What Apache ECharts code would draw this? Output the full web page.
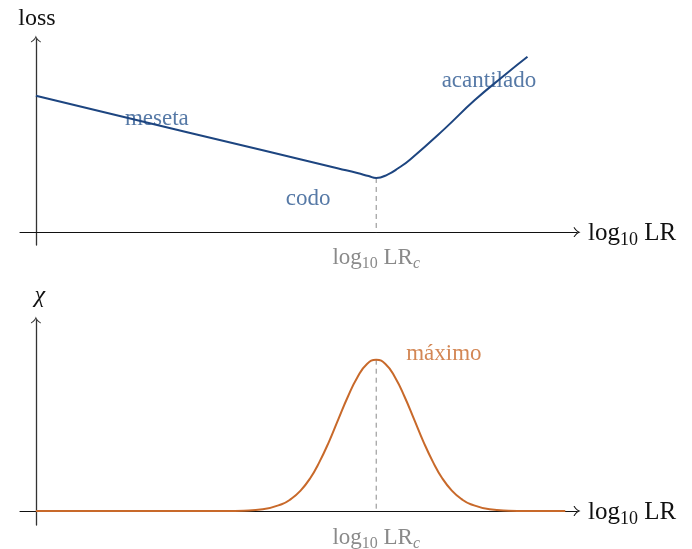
<!DOCTYPE html>
<html>
<head>
<meta charset="utf-8">
<script src="https://cdn.jsdelivr.net/npm/echarts@6/dist/echarts.min.js"></script>
<style>
  html, body { margin: 0; padding: 0; background: #fff; }
  #chart { width: 692px; height: 549px; }
</style>
</head>
<body>
<div id="chart"></div>
<script>
// Loss curve: plateau, elbow at the critical learning rate, then the cliff
const lossX = [0, 4, 8.0, 8.5, 8.8, 9.0, 9.3, 9.6, 9.9, 10.8, 11.6, 12.4, 13.0];
const lossY = [3.6, 2.64, 1.68, 1.56, 1.48, 1.43, 1.52, 1.70, 1.92, 2.72, 3.48, 4.15, 4.63];

// χ curve: single peak centred on the critical learning rate
const chiX = [0, 4, 5, 5.5, 6, 6.5, 6.75, 7, 7.25, 7.5, 7.75, 8, 8.25, 8.5, 8.75, 9,
              9.25, 9.5, 9.75, 10, 10.25, 10.5, 10.75, 11, 11.25, 11.5, 12, 12.5, 13, 14];
const chiY = [0, 0, 0.001, 0.009, 0.044, 0.18, 0.32, 0.54, 0.86, 1.30, 1.83, 2.43, 3.02, 3.53, 3.88, 4.0,
              3.88, 3.53, 3.02, 2.43, 1.83, 1.30, 0.86, 0.54, 0.32, 0.18, 0.044, 0.009, 0.001, 0];

const lrCritical = 9;
const lossAtCritical = 1.43;
const chiPeak = 4.0;

const xLabelText = 'log10 LR';
const criticalLabelText = 'log10 LRc';
const lossName = 'loss';
const chiName = 'χ';
const lossNotes = ['meseta', 'codo', 'acantilado'];
const chiNotes = ['máximo'];

const SERIF = '"Liberation Serif", "DejaVu Serif", serif';
const BLUE = '#1d4580';
const BLUE_TEXT = '#2c5790';
const ORANGE = '#c8692a';
const GRAY = '#8a8a8a';

// Open "->" arrow head, drawn pointing up; ECharts rotates it along the axis
const ARROW = 'path://M5,0 C5.6,2.4 7.4,4.6 10,6 L10,7.1 C7.6,5.9 5.9,4.3 5,2.6 C4.1,4.3 2.4,5.9 0,7.1 L0,6 C2.6,4.6 4.4,2.4 5,0 Z';

function mathRich(size, color) {
  const sub = Math.round(size * 0.7);
  return {
    m: { fontFamily: SERIF, fontSize: size, color: color, lineHeight: size + 3, verticalAlign: 'top' },
    s: { fontFamily: SERIF, fontSize: sub, color: color, lineHeight: sub, verticalAlign: 'bottom' },
    i: { fontFamily: SERIF, fontStyle: 'italic', fontSize: sub, color: color, lineHeight: sub, verticalAlign: 'bottom' }
  };
}
function logLabel(text) {
  // "log10 LR" -> log with subscript 10, optional italic subscript c
  const parts = text.match(/^log(\d+) (LR)(c?)$/);
  let s = '{m|log}{s|' + parts[1] + '}{m| ' + parts[2] + '}';
  if (parts[3]) s += '{i|' + parts[3] + '}';
  return s;
}

function makeXAxis(gridIndex) {
  return {
    type: 'value', gridIndex: gridIndex,
    min: -0.42, max: 14.31,
    splitLine: { show: false },
    axisLine: { show: true, onZero: true, lineStyle: { color: '#111', width: 1.1 },
                symbol: ['none', ARROW], symbolSize: [11, 7] },
    axisTick: { show: false },
    axisLabel: {
      show: true, customValues: [lrCritical], margin: 1,
      formatter: function () { return logLabel(criticalLabelText); },
      rich: mathRich(23, GRAY)
    },
    name: logLabel(xLabelText), nameLocation: 'end', nameGap: 11,
    nameTextStyle: { rich: mathRich(25, '#111'), verticalAlign: 'middle', padding: [6, 0, 0, 0] }
  };
}
function makeYAxis(gridIndex, min, max, name, italic) {
  return {
    type: 'value', gridIndex: gridIndex, min: min, max: max,
    splitLine: { show: false },
    axisLine: { show: true, onZero: true, lineStyle: { color: '#333', width: 1.3 },
                symbol: ['none', ARROW], symbolSize: [11, 7] },
    axisTick: { show: false },
    axisLabel: { show: false },
    name: name, nameLocation: 'end', nameGap: italic ? 12 : 8,
    nameTextStyle: { fontFamily: SERIF, fontSize: 24, color: '#111',
                     fontStyle: italic ? 'italic' : 'normal', align: 'center',
                     padding: italic ? [0, 0, 0, 8] : [0, 0, 0, 2] }
  };
}

function noteSeries(xi, yi, notes, color, positions) {
  return {
    type: 'scatter', xAxisIndex: xi, yAxisIndex: yi, symbolSize: 0, clip: false, silent: true,
    data: notes.map(function (t, k) { return { name: t, value: positions[k] }; }),
    label: { show: true, position: 'inside', formatter: '{b}',
             fontFamily: SERIF, fontSize: 23, color: color }
  };
}

const chart = echarts.init(document.getElementById('chart'), null, { renderer: 'canvas' });
chart.setOption({
  animation: false,
  backgroundColor: '#ffffff',
  grid: [
    { left: 20, top: 39, width: 557, height: 206, outerBoundsMode: 'none', containLabel: false },
    { left: 20, top: 320, width: 557, height: 205, outerBoundsMode: 'none', containLabel: false }
  ],
  xAxis: [makeXAxis(0), makeXAxis(1)],
  yAxis: [
    makeYAxis(0, -0.34, 5.1, lossName, false),
    makeYAxis(1, -0.37, 5.05, chiName, true)
  ],
  series: [
    {
      type: 'line', xAxisIndex: 0, yAxisIndex: 0, showSymbol: false, smooth: 0.5,
      clip: false, z: 3,
      lineStyle: { color: BLUE, width: 2 },
      data: lossX.map(function (x, i) { return [x, lossY[i]]; })
    },
    {
      type: 'line', xAxisIndex: 0, yAxisIndex: 0, showSymbol: false, z: 2,
      lineStyle: { color: GRAY, width: 1, type: [5, 4] },
      data: [[lrCritical, lossAtCritical], [lrCritical, 0]]
    },
    {
      type: 'line', xAxisIndex: 1, yAxisIndex: 1, showSymbol: false, smooth: 0.5,
      clip: false, z: 3,
      lineStyle: { color: ORANGE, width: 2 },
      data: chiX.map(function (x, i) { return [x, chiY[i]]; })
    },
    {
      type: 'line', xAxisIndex: 1, yAxisIndex: 1, showSymbol: false, z: 2,
      lineStyle: { color: GRAY, width: 1, type: [5, 4] },
      data: [[lrCritical, chiPeak], [lrCritical, 0]]
    },
    noteSeries(0, 0, lossNotes, BLUE_TEXT, [[3.2, 2.99], [7.2, 0.87], [11.98, 3.99]]),
    noteSeries(1, 1, chiNotes, ORANGE, [[10.79, 4.15]])
  ]
});
</script>
</body>
</html>
